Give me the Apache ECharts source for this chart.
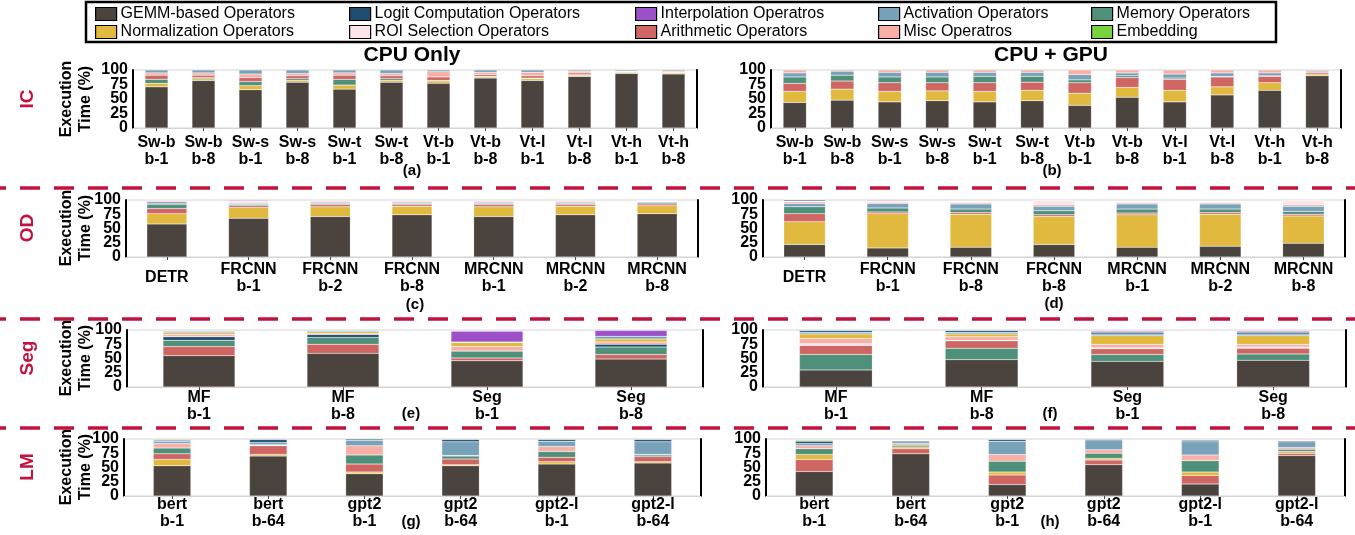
<!DOCTYPE html>
<html>
<head>
<meta charset="utf-8">
<script src="https://cdn.jsdelivr.net/npm/echarts@6/dist/echarts.min.js"></script>
<style>
  html, body { margin: 0; padding: 0; background: #fff; }
  #chart { width: 1355px; height: 535px; }
</style>
</head>
<body>
<div id="chart"></div>
<script>
// operator categories
const opNames = {
  gemm: 'GEMM-based Operators',
  logit: 'Logit Computation Operators',
  interp: 'Interpolation Operatros',
  act: 'Activation Operators',
  mem: 'Memory Operators',
  norm: 'Normalization Operators',
  roi: 'ROI Selection Operators',
  arith: 'Arithmetic Operators',
  misc: 'Misc Operatros',
  emb: 'Embedding'
};
const opColors = {
  gemm: '#4b443e', logit: '#1e4d6f', interp: '#9b50c8', act: '#78a1ba', mem: '#4f907a',
  norm: '#e1b93f', roi: '#fde4e8', arith: '#d06663', misc: '#f8b0a6', emb: '#78d33c'
};

// x labels
const icLabels = ['Sw-b\nb-1', 'Sw-b\nb-8', 'Sw-s\nb-1', 'Sw-s\nb-8', 'Sw-t\nb-1', 'Sw-t\nb-8',
  'Vt-b\nb-1', 'Vt-b\nb-8', 'Vt-l\nb-1', 'Vt-l\nb-8', 'Vt-h\nb-1', 'Vt-h\nb-8'];
const odCpuLabels = ['DETR', 'FRCNN\nb-1', 'FRCNN\nb-2', 'FRCNN\nb-8', 'MRCNN\nb-1', 'MRCNN\nb-2', 'MRCNN\nb-8'];
const odGpuLabels = ['DETR', 'FRCNN\nb-1', 'FRCNN\nb-8', 'FRCNN\nb-8', 'MRCNN\nb-1', 'MRCNN\nb-2', 'MRCNN\nb-8'];
const segLabels = ['MF\nb-1', 'MF\nb-8', 'Seg\nb-1', 'Seg\nb-8'];
const lmLabels = ['bert\nb-1', 'bert\nb-64', 'gpt2\nb-1', 'gpt2\nb-64', 'gpt2-l\nb-1', 'gpt2-l\nb-64'];
// y tick labels: split in two sets so the tight labels are not culled
const yTicksMain = [0, 50, 100];
const yTicksMid = [25, 75];

// execution time share (%), keys listed bottom -> top of the stack
const icCpu = {
  gemm:  [71, 82, 66, 79, 67, 79, 77, 86, 82, 89, 94, 93],
  norm:  [6, 3, 7, 3, 7, 3, 4, 2, 3, 2, 2, 2],
  mem:   [7, 2, 7, 3, 10, 3, 1, 1, 1, 1, 0, 0],
  arith: [7, 4, 7, 5, 7, 5, 6, 3, 4, 3, 1, 1],
  misc:  [4, 4, 6, 4, 4, 4, 9, 4, 6, 3, 1, 2],
  act:   [5, 5, 7, 6, 5, 6, 3, 4, 4, 2, 2, 2]
};
const icGpu = {
  gemm:  [44, 48, 45, 47, 45, 47, 39, 53, 45, 57, 65, 90],
  norm:  [19, 19, 18, 17, 18, 18, 21, 17, 20, 14, 13, 3],
  arith: [14, 14, 15, 14, 15, 14, 18, 17, 19, 17, 11, 3],
  mem:   [11, 10, 10, 10, 11, 10, 5, 3, 2, 1, 1, 0],
  act:   [7, 7, 8, 8, 7, 7, 9, 5, 7, 6, 5, 2],
  misc:  [5, 2, 4, 4, 4, 4, 8, 5, 7, 5, 5, 2]
};
const odCpu = {
  gemm:   [58, 68, 71, 74, 71, 74, 76],
  norm:   [18, 19, 17, 15, 17, 15, 14],
  arith:  [9, 3, 4, 3, 4, 3, 3],
  mem:    [7, 2, 2, 2, 2, 2, 2],
  logit:  [2, 0, 0, 0, 0, 0, 0],
  act:    [3, 2, 2, 2, 2, 2, 2],
  misc:   [2, 2, 2, 2, 2, 2, 1],
  roi:    [1, 2, 1, 1, 1, 1, 1],
  interp: [0, 1, 1, 1, 1, 1, 1]
};
const odGpu = {
  gemm:   [22, 16, 17, 22, 17, 19, 24],
  norm:   [40, 60, 58, 49, 57, 56, 48],
  arith:  [14, 3, 3, 3, 3, 3, 3],
  mem:    [12, 7, 6, 7, 7, 6, 5],
  act:    [6, 8, 9, 8, 9, 9, 9],
  misc:   [3, 2, 2, 3, 2, 2, 3],
  roi:    [1, 2, 2, 7, 2, 2, 7],
  logit:  [2, 0, 0, 0, 0, 0, 0],
  interp: [0, 1, 1, 1, 1, 1, 1]
};
const segCpu = {
  gemm:   [55, 59, 46, 49],
  arith:  [16, 16, 5, 8],
  mem:    [11, 12, 12, 13],
  logit:  [6, 5, 0, 5],
  misc:   [4, 2, 8, 4],
  norm:   [3, 3, 7, 5],
  act:    [3, 2, 1, 5],
  interp: [0, 0, 19, 10]
};
const segGpu = {
  gemm:   [30, 48, 45, 47],
  mem:    [27, 20, 12, 11],
  arith:  [16, 13, 10, 10],
  roi:    [3, 1, 2, 2],
  misc:   [9, 6, 6, 5],
  norm:   [8, 5, 15, 15],
  act:    [3, 3, 3, 3],
  logit:  [3, 3, 3, 3],
  interp: [0, 0, 2, 2]
};
const lmCpu = {
  gemm:  [53, 70, 39, 53, 56, 58],
  norm:  [11, 3, 3, 2, 4, 2],
  arith: [10, 15, 14, 10, 8, 9],
  mem:   [10, 1, 16, 5, 10, 3],
  misc:  [8, 1, 16, 1, 9, 1],
  act:   [4, 4, 10, 24, 9, 22],
  logit: [2, 5, 2, 4, 3, 4],
  emb:   [1, 0, 0, 0, 0, 0]
};
const lmGpu = {
  gemm:  [43, 74, 20, 55, 21, 71],
  arith: [21, 9, 17, 8, 15, 4],
  norm:  [9, 3, 5, 3, 6, 3],
  mem:   [10, 3, 19, 9, 20, 4],
  misc:  [5, 3, 12, 6, 10, 3],
  act:   [4, 3, 23, 16, 23, 10],
  logit: [4, 2, 3, 2, 3, 2],
  emb:   [2, 1, 0, 0, 0, 0]
};

const FONT = '"Liberation Sans", Arial, Helvetica, sans-serif';

// panel layout: plot box in px, label gap, sub-caption position
const panels = [
  { d: icCpu,  x: icLabels,    l: 133, r: 697,  t: 70,  b: 128, bw: '49%', gap: 23, tag: '(a)', tx: 412,  ty: 171 },
  { d: icGpu,  x: icLabels,    l: 771, r: 1341, t: 70,  b: 128, bw: '49%', gap: 23, tag: '(b)', tx: 1052, ty: 171 },
  { d: odCpu,  x: odCpuLabels, l: 126, r: 698,  t: 200, b: 257, bw: '49%', gap: 21, tag: '(c)', tx: 415,  ty: 305 },
  { d: odGpu,  x: odGpuLabels, l: 763, r: 1345, t: 200, b: 257, bw: '50%', gap: 21, tag: '(d)', tx: 1054, ty: 304 },
  { d: segCpu, x: segLabels,   l: 127, r: 703,  t: 330, b: 387, bw: '50%', gap: 19, tag: '(e)', tx: 411,  ty: 414 },
  { d: segGpu, x: segLabels,   l: 763, r: 1346, t: 330, b: 387, bw: '50%', gap: 19, tag: '(f)', tx: 1050, ty: 414 },
  { d: lmCpu,  x: lmLabels,    l: 124, r: 701,  t: 439, b: 496, bw: '39%', gap: 17, tag: '(g)', tx: 411,  ty: 522 },
  { d: lmGpu,  x: lmLabels,    l: 766, r: 1345, t: 439, b: 496, bw: '39%', gap: 17, tag: '(h)', tx: 1050, ty: 522 }
];

const grid = [], xAxis = [], yAxis = [], series = [];
const graphic = [];

const yLabelStyle = {
  color: '#000', fontFamily: FONT, fontWeight: 'bold', fontSize: 16, margin: 5,
  showMinLabel: true, showMaxLabel: true, hideOverlap: false
};

panels.forEach(function (p, i) {
  grid.push({
    left: p.l, top: p.t, width: p.r - p.l, height: p.b - p.t,
    show: true, borderColor: '#d4d4d4', borderWidth: 1, backgroundColor: '#fff'
  });
  xAxis.push({
    type: 'category', gridIndex: i, data: p.x,
    axisLine: { show: true, lineStyle: { color: '#d4d4d4', width: 1 } },
    axisTick: { show: true, alignWithLabel: true, length: 3, lineStyle: { color: '#444' } },
    axisLabel: {
      interval: 0, color: '#000', fontFamily: FONT, fontWeight: 'bold', fontSize: 16,
      lineHeight: 17, verticalAlign: 'middle', margin: p.gap
    }
  });
  // left axis: line + 0/50/100
  yAxis.push({
    type: 'value', gridIndex: i, min: 0, max: 100, interval: 50, position: 'left', offset: 0,
    axisLine: { show: true, onZero: false, lineStyle: { color: '#000', width: 2 } },
    axisTick: { show: false }, splitLine: { show: false },
    axisLabel: Object.assign({ customValues: yTicksMain }, yLabelStyle)
  });
  // left axis twin: 25/75
  yAxis.push({
    type: 'value', gridIndex: i, min: 0, max: 100, interval: 25, position: 'left', offset: 0,
    axisLine: { show: false, onZero: false }, axisTick: { show: false }, splitLine: { show: false },
    axisLabel: Object.assign({ customValues: yTicksMid }, yLabelStyle)
  });
  // right frame line
  yAxis.push({
    type: 'value', gridIndex: i, min: 0, max: 100, position: 'right', offset: 0,
    axisLine: { show: true, onZero: false, lineStyle: { color: '#000', width: 2 } },
    axisTick: { show: false }, axisLabel: { show: false }, splitLine: { show: false }
  });
  Object.keys(p.d).forEach(function (k) {
    series.push({
      type: 'bar', name: opNames[k], xAxisIndex: i, yAxisIndex: 3 * i,
      stack: 'panel' + i, barWidth: p.bw, data: p.d[k],
      itemStyle: { color: opColors[k], borderColor: 'rgba(255,255,255,0.35)', borderWidth: 0.5 },
      emphasis: { disabled: true }
    });
  });
  graphic.push({
    type: 'text', x: p.tx, y: p.ty, silent: true,
    style: { text: p.tag, font: 'bold 15px ' + FONT, fill: '#000', align: 'center', verticalAlign: 'middle' }
  });
});

// row labels and y axis titles
const rows = [['IC', 99], ['OD', 228], ['Seg', 358], ['LM', 467]];
rows.forEach(function (r) {
  graphic.push({
    type: 'text', x: 28, y: r[1], rotation: Math.PI / 2, silent: true,
    style: { text: r[0], font: 'bold 19px ' + FONT, fill: '#c2123e', align: 'center', verticalAlign: 'middle' }
  });
  graphic.push({
    type: 'text', x: 76, y: r[1], rotation: Math.PI / 2, silent: true,
    style: { text: 'Execution\nTime (%)', font: 'bold 16px ' + FONT, lineHeight: 19, fill: '#000', align: 'center', verticalAlign: 'middle' }
  });
});

// dashed separators
[188, 319, 428].forEach(function (y) {
  graphic.push({
    type: 'line', silent: true,
    shape: { x1: 0, y1: y, x2: 1355, y2: y },
    style: { stroke: '#c2123e', lineWidth: 3.5, lineDash: [20, 14], lineDashOffset: 14 }
  });
});

// column titles
graphic.push({ type: 'text', x: 412, y: 55, silent: true,
  style: { text: 'CPU Only', font: 'bold 21px ' + FONT, fill: '#000', align: 'center', verticalAlign: 'middle' } });
graphic.push({ type: 'text', x: 1051, y: 55, silent: true,
  style: { text: 'CPU + GPU', font: 'bold 21px ' + FONT, fill: '#000', align: 'center', verticalAlign: 'middle' } });

// legend frame
graphic.push({ type: 'rect', silent: true, shape: { x: 86, y: 2, width: 1190, height: 40 },
  style: { fill: 'none', stroke: '#000', lineWidth: 2.5 } });

const legendCols = [['gemm', 'norm'], ['logit', 'roi'], ['interp', 'arith'], ['act', 'misc'], ['mem', 'emb']];
const legendLeft = [95, 349, 635, 878, 1091];
const legend = legendCols.map(function (col, i) {
  return {
    orient: 'vertical', left: legendLeft[i], top: 6, itemGap: 2,
    itemWidth: 21, itemHeight: 13, selectedMode: false, padding: 0,
    icon: 'rect',
    itemStyle: { borderColor: '#000', borderWidth: 1.2 },
    textStyle: { fontFamily: FONT, fontSize: 16, color: '#000', padding: [0, 0, 0, -1] },
    data: col.map(function (k) { return opNames[k]; })
  };
});

const chart = echarts.init(document.getElementById('chart'), null, { renderer: 'canvas' });
chart.setOption({
  animation: false,
  textStyle: { fontFamily: FONT },
  legend: legend,
  grid: grid,
  xAxis: xAxis,
  yAxis: yAxis,
  series: series,
  graphic: graphic
});
</script>
</body>
</html>
